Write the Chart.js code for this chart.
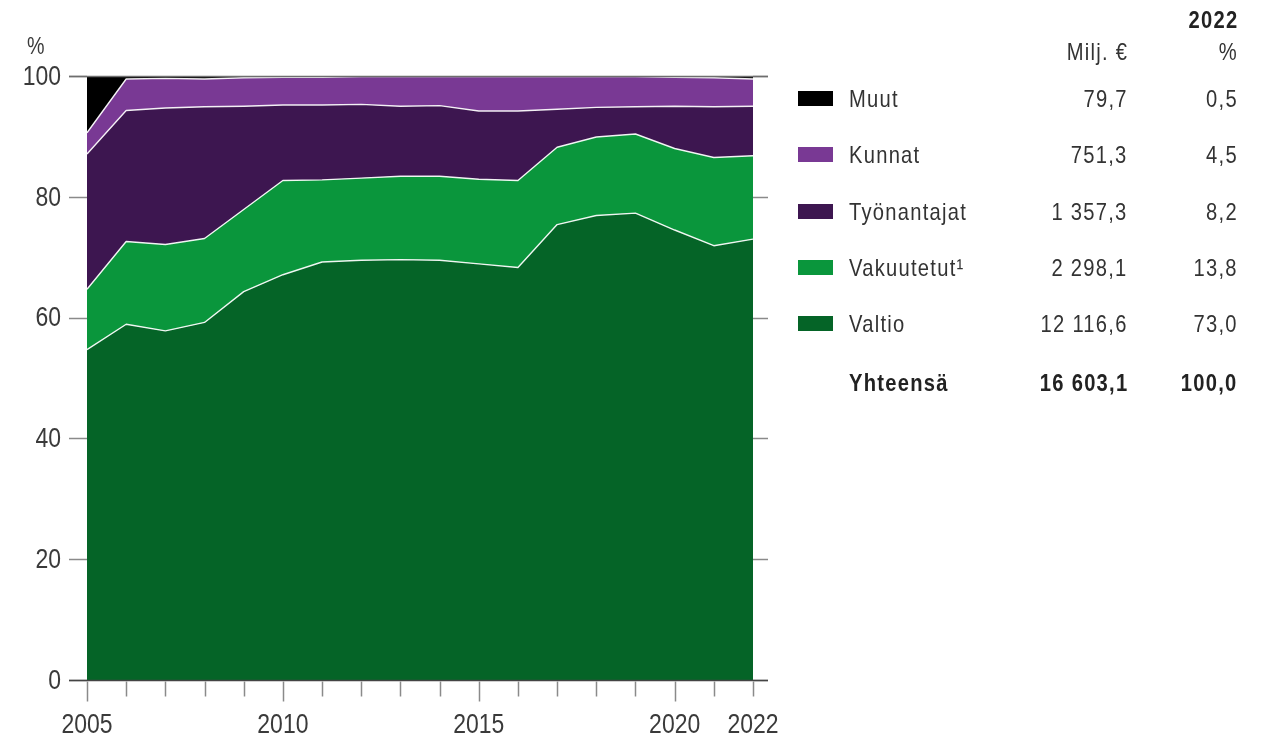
<!DOCTYPE html>
<html lang="fi">
<head>
<meta charset="utf-8">
<script src="https://cdn.jsdelivr.net/npm/chart.js@4/dist/chart.umd.min.js"></script>
<style>
  html, body { margin: 0; padding: 0; background: #fff; }
  #wrap { position: relative; width: 1265px; height: 736px; overflow: hidden; }
  #c { position: absolute; left: 0; top: 0; }
  .t { position: absolute; font-family: "Liberation Sans", Arial, sans-serif;
       font-size: 24px; line-height: 24px; color: #333; letter-spacing: 1.5px; white-space: nowrap;
       transform: scaleX(0.84); transform-origin: left center; }
  .r { text-align: right; transform-origin: right center; }
  .b { font-weight: bold; color: #222; }
  .sw { position: absolute; width: 35px; height: 15px; }
</style>
</head>
<body>
<div id="wrap">
  <canvas id="c" width="1265" height="736"></canvas>
  <div id="legend"></div>
</div>
<script>
// ---- data ----
const years = [2005, 2006, 2007, 2008, 2009, 2010, 2011, 2012, 2013, 2014, 2015, 2016, 2017, 2018, 2019, 2020, 2021, 2022];
const valtio      = [54.7, 58.9, 57.8, 59.2, 64.3, 67.1, 69.2, 69.5, 69.6, 69.5, 68.9, 68.3, 75.4, 76.9, 77.3, 74.5, 71.9, 73.0];
const vakuutetut  = [10.0, 13.7, 14.3, 13.9, 13.6, 15.6, 13.6, 13.6, 13.8, 13.9, 14.0, 14.4, 12.8, 13.0, 13.1, 13.5, 14.6, 13.8];
const tyonantajat = [22.4, 21.7, 22.6, 21.8, 17.1, 12.5, 12.4, 12.2, 11.6, 11.7, 11.3, 11.5, 6.3, 4.9, 4.5, 7.0, 8.4, 8.2];
const kunnat      = [3.5, 5.2, 4.9, 4.6, 4.7, 4.6, 4.6, 4.6, 4.9, 4.8, 5.7, 5.7, 5.4, 5.1, 5.0, 4.8, 4.8, 4.5];
const muut        = [9.4, 0.5, 0.4, 0.5, 0.3, 0.2, 0.2, 0.1, 0.1, 0.1, 0.1, 0.1, 0.1, 0.1, 0.1, 0.2, 0.3, 0.5];

const yTicks = [0, 20, 40, 60, 80, 100];
const labelYears = [2005, 2010, 2015, 2020, 2022];
const majorYears = [2005, 2010, 2015, 2020];

const legendNames = ["Muut", "Kunnat", "Työnantajat", "Vakuutetut¹", "Valtio"];
const legendMilj  = ["79,7", "751,3", "1 357,3", "2 298,1", "12 116,6"];
const legendPct   = ["0,5", "4,5", "8,2", "13,8", "73,0"];
const totalName = "Yhteensä", totalMilj = "16 603,1", totalPct = "100,0";
const headYear = "2022", headMilj = "Milj. €", headPct = "%";
const unitLabel = "%";

const colors = { valtio: "#056427", vakuutetut: "#0a963c", tyonantajat: "#3d1650", kunnat: "#793994", muut: "#000000" };

// ---- chart ----
const AXFONT = '28px "Liberation Sans", Arial, sans-serif';
const SQUEEZE = 0.82;

const decor = {
  id: 'decor',
  afterDatasetsDraw(chart) {
    const ctx = chart.ctx, x = chart.scales.x, y = chart.scales.y;
    const L = chart.chartArea.left, R = chart.chartArea.right;
    ctx.save();
    ctx.lineWidth = 1.5;
    ctx.strokeStyle = '#8a8a8a';
    yTicks.forEach(v => {
      const py = Math.round(y.getPixelForValue(v)) + 0.5;
      ctx.beginPath(); ctx.moveTo(L - 18, py); ctx.lineTo(L, py); ctx.stroke();
      ctx.beginPath(); ctx.moveTo(R, py); ctx.lineTo(R + 15, py); ctx.stroke();
    });
    const p100 = Math.round(y.getPixelForValue(100)) + 0.5;
    ctx.strokeStyle = '#6e6e6e';
    ctx.beginPath(); ctx.moveTo(L - 18, p100); ctx.lineTo(R + 15, p100); ctx.stroke();
    const p0 = Math.round(y.getPixelForValue(0)) + 0.5;
    ctx.strokeStyle = '#444';
    ctx.beginPath(); ctx.moveTo(L - 18, p0); ctx.lineTo(R + 15, p0); ctx.stroke();
    ctx.strokeStyle = '#8a8a8a';
    years.forEach((yr, i) => {
      const px = Math.round(x.getPixelForValue(i)) + 0.5;
      const len = majorYears.includes(yr) ? 21 : 16;
      ctx.beginPath(); ctx.moveTo(px, p0 + 1); ctx.lineTo(px, p0 + len); ctx.stroke();
    });

    // tick labels (condensed), positioned by the scales
    ctx.fillStyle = '#3a3a3a';
    ctx.font = AXFONT;
    ctx.textAlign = 'right';
    ctx.textBaseline = 'middle';
    y.ticks.forEach(t => {
      const py = y.getPixelForValue(t.value);
      ctx.save(); ctx.translate(L - 26, py + 1); ctx.scale(SQUEEZE, 1);
      ctx.fillText(String(t.value), 0, 0); ctx.restore();
    });
    ctx.textAlign = 'center';
    ctx.textBaseline = 'alphabetic';
    x.ticks.forEach((t, i) => {
      const yr = years[i];
      if (!labelYears.includes(yr)) return;
      const px = x.getPixelForValue(i);
      ctx.save(); ctx.translate(px, p0 + 52); ctx.scale(SQUEEZE, 1);
      ctx.fillText(String(yr), 0, 0); ctx.restore();
    });
    // unit label
    ctx.font = '24px "Liberation Sans", Arial, sans-serif';
    ctx.textAlign = 'left';
    ctx.save(); ctx.translate(27, 54); ctx.scale(SQUEEZE, 1);
    ctx.fillText(unitLabel, 0, 0); ctx.restore();
    ctx.restore();
  }
};

function ds(label, data, color, fill, border) {
  return {
    label, data, fill,
    backgroundColor: color,
    borderColor: 'rgba(255,255,255,0.92)',
    borderWidth: border,
    pointRadius: 0, pointHoverRadius: 0,
    tension: 0
  };
}

new Chart(document.getElementById('c'), {
  type: 'line',
  data: {
    labels: years,
    datasets: [
      ds('Valtio', valtio, colors.valtio, 'origin', 1.4),
      ds('Vakuutetut¹', vakuutetut, colors.vakuutetut, '-1', 1.4),
      ds('Työnantajat', tyonantajat, colors.tyonantajat, '-1', 1.4),
      ds('Kunnat', kunnat, colors.kunnat, '-1', 1.4),
      ds('Muut', muut, colors.muut, '-1', 0)
    ]
  },
  options: {
    responsive: false,
    animation: false,
    devicePixelRatio: 1,
    layout: { padding: { left: 0, right: 512, top: 76, bottom: 0 } },
    plugins: { legend: { display: false }, tooltip: { enabled: false } },
    elements: { line: { borderJoinStyle: 'round' } },
    scales: {
      x: {
        type: 'category',
        offset: false,
        grid: { display: false, drawTicks: false },
        border: { display: false },
        ticks: { display: false, autoSkip: false, maxRotation: 0, minRotation: 0 },
        afterFit: s => { s.height = 56; }
      },
      y: {
        stacked: true,
        min: 0, max: 100,
        grid: { display: false, drawTicks: false },
        border: { display: false },
        ticks: { display: false, stepSize: 20 },
        afterFit: s => { s.width = 87; }
      }
    }
  },
  plugins: [decor]
});

// ---- legend / table (HTML text) ----
const lg = document.getElementById('legend');
function txt(s, x, baseline, cls, right) {
  const d = document.createElement('div');
  d.className = 't' + (cls ? ' ' + cls : '') + (right ? ' r' : '');
  d.textContent = s;
  d.style.top = (baseline - 20) + 'px';
  if (right) { d.style.right = (1265 - x - 1) + 'px'; } else { d.style.left = x + 'px'; }
  lg.appendChild(d);
}
const percentX = 1237, miljX = 1127;
txt(headYear, percentX, 27.5, 'b', true);
txt(headMilj, miljX, 59.5, '', true);
txt(headPct, percentX, 59.5, '', true);

const rowBase = [106.5, 163, 219.5, 275.5, 331.5];
const swColors = [colors.muut, colors.kunnat, colors.tyonantajat, colors.vakuutetut, colors.valtio];
legendNames.forEach((n, i) => {
  const sw = document.createElement('div');
  sw.className = 'sw';
  sw.style.left = '798px';
  sw.style.top = (rowBase[i] - 16) + 'px';
  sw.style.background = swColors[i];
  lg.appendChild(sw);
  txt(n, 849, rowBase[i], '', false);
  txt(legendMilj[i], miljX, rowBase[i], '', true);
  txt(legendPct[i], percentX, rowBase[i], '', true);
});
txt(totalName, 849, 390.5, 'b', false);
txt(totalMilj, miljX, 390.5, 'b', true);
txt(totalPct, percentX, 390.5, 'b', true);
</script>
</body>
</html>
